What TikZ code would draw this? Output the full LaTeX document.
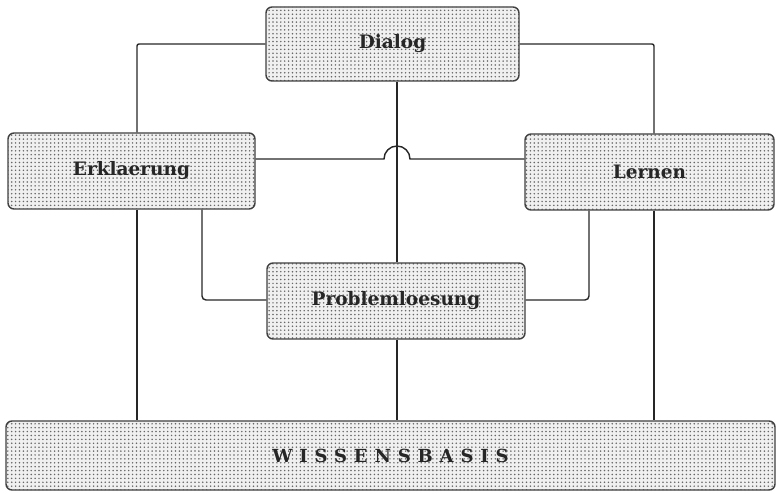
\documentclass[tikz,border=0pt]{standalone}
\usepackage{fontspec}
\setmainfont{DejaVu Serif}
\usetikzlibrary{patterns.meta,calc}
\begin{document}
\begin{tikzpicture}[x=1pt,y=-1pt,
  module/.style={draw=black!75, line width=1.4pt, rounded corners=6pt,
    preaction={fill=black!6},
    pattern={Dots[radius=0.85pt,distance=3.9pt]}, pattern color=black!60,
    inner sep=0pt, font=\fontsize{18.5}{22}\selectfont\bfseries, text=black!85},
  link/.style={draw=black!85, line width=1.4pt, rounded corners=4pt}]
  \useasboundingbox (0,0) rectangle (777,494);

  % modules
  \node[module, minimum width=253pt, minimum height=74pt] (dialog) at (392.5,44) {Dialog};
  \node[module, minimum width=247pt, minimum height=76pt] (erk) at (131.5,171) {Erklaerung};
  \node[module, minimum width=249pt, minimum height=76pt] (lern) at (649.5,172) {Lernen};
  \node[module, minimum width=258pt, minimum height=76pt] (prob) at (396,301) {Problemloesung};
  \node[module, minimum width=769pt, minimum height=69pt,
    font=\fontsize{18}{22}\selectfont\bfseries\addfontfeature{LetterSpace=38}] (wiss) at (390.5,455.5) {WISSENSBASIS};

  % routing points
  \coordinate (xl) at (137,0);
  \coordinate (xe) at (202,0);
  \coordinate (xc) at (397,0);
  \coordinate (xr) at (589,0);
  \coordinate (xo) at (654,0);
  \coordinate (hop) at (397,159);
  \coordinate (mid) at (0,300);

  % Dialog to Erklaerung and Lernen
  \draw[link, rounded corners=2pt] (dialog.west) -| (erk.north -| xl);
  \draw[link, rounded corners=2pt] (dialog.east) -| (lern.north -| xo);
  % Dialog to Problemloesung
  \draw[link] (dialog.south -| xc) -- (prob.north -| xc);
  % Erklaerung to Lernen, hopping over the vertical link
  \draw[link, rounded corners=0pt] (erk.east |- hop) -- ([xshift=-13pt]hop)
    arc[start angle=180, end angle=0, radius=13pt] -- (lern.west |- hop);
  % Erklaerung and Lernen to Problemloesung
  \draw[link] (erk.south -| xe) |- (prob.west |- mid);
  \draw[link] (lern.south -| xr) |- (prob.east |- mid);
  % links into the knowledge base
  \draw[link] (erk.south -| xl) -- (wiss.north -| xl);
  \draw[link] (prob.south -| xc) -- (wiss.north -| xc);
  \draw[link] (lern.south -| xo) -- (wiss.north -| xo);
\end{tikzpicture}
\end{document}
